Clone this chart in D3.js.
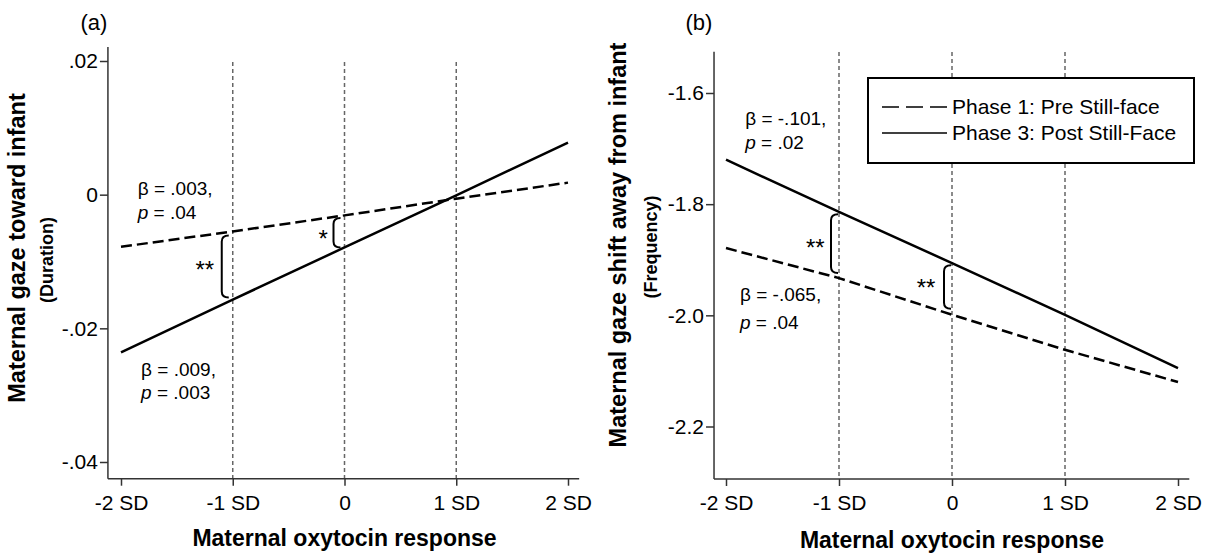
<!DOCTYPE html>
<html>
<head>
<meta charset="utf-8">
<script src="https://cdn.jsdelivr.net/npm/d3@7"></script>
<style>
  body { margin: 0; background: #fff; }
  svg text { font-family: "Liberation Sans", Arial, sans-serif; fill: #000; }
  .guide { stroke: #666; stroke-width: 1.5; stroke-dasharray: 4,3; }
  .axisline { stroke: #333; stroke-width: 1.5; }
</style>
</head>
<body>
<div id="chart"></div>
<script>
// x positions (in SD of oxytocin response) and their labels
var sdTicks = [-2, -1, 0, 1, 2];
var sdLabels = ["-2 SD", "-1 SD", "0", "1 SD", "2 SD"];
var guideSD = [-1, 0, 1];

// panel (a): gaze toward infant (duration)
var durTicks = [0.02, 0, -0.02, -0.04];
var durLabels = [".02", "0", "-.02", "-.04"];
var durPhase1 = [-0.0078, -0.0055, -0.0031, -0.0006, 0.0018];
var durPhase3 = [-0.0236, -0.0157, -0.0079, -0.0001, 0.0078];

// panel (b): gaze shift away from infant (frequency)
var freqTicks = [-1.6, -1.8, -2.0, -2.2];
var freqLabels = ["-1.6", "-1.8", "-2.0", "-2.2"];
var freqPhase1 = [-1.879, -1.933, -1.999, -2.062, -2.120];
var freqPhase3 = [-1.720, -1.814, -1.906, -1.999, -2.095];

var legendLabels = ["Phase 1: Pre Still-face", "Phase 3: Post Still-Face"];

var svg = d3.select("#chart").append("svg")
    .attr("width", 1209)
    .attr("height", 558);

var drawPanel = function (p) {
    var x = d3.scaleLinear().domain([-2, 2]).range(p.xRange);
    var y = d3.scaleLinear().domain(p.yDomain).range(p.yRange);
    var g = svg.append("g");

    // dotted guides at -1, 0, +1 SD
    g.selectAll(".guide").data(guideSD).enter().append("line")
        .attr("class", "guide")
        .attr("x1", function (d) { return x(d); })
        .attr("x2", function (d) { return x(d); })
        .attr("y1", p.guideTop)
        .attr("y2", y(p.yExt[0]));

    // axes
    var xAxis = d3.axisBottom(x).tickValues(sdTicks)
        .tickFormat(function (d, i) { return sdLabels[i]; })
        .tickSize(7).tickPadding(9);
    var gx = g.append("g").attr("transform", "translate(0," + y(p.yExt[0]) + ")").call(xAxis);
    var yAxis = d3.axisLeft(y).tickValues(p.yTicks)
        .tickFormat(function (d, i) { return p.yLabels[i]; })
        .tickSize(8).tickPadding(2);
    var gy = g.append("g").attr("transform", "translate(" + x(p.xExt[0]) + ",0)").call(yAxis);
    [gx, gy].forEach(function (a) {
        a.select(".domain").remove();
        a.selectAll("line").attr("stroke", "#333").attr("stroke-width", 1.5);
        a.selectAll("text").style("font-size", "21px").attr("fill", "#000");
    });
    g.append("line").attr("class", "axisline")
        .attr("x1", x(p.xExt[0])).attr("x2", x(p.xExt[1]))
        .attr("y1", y(p.yExt[0])).attr("y2", y(p.yExt[0]));
    g.append("line").attr("class", "axisline")
        .attr("x1", x(p.xExt[0])).attr("x2", x(p.xExt[0]))
        .attr("y1", y(p.yExt[0])).attr("y2", y(p.yExt[1]));

    // regression lines
    var line = d3.line()
        .x(function (d, i) { return x(sdTicks[i]); })
        .y(function (d) { return y(d); });
    g.append("path").datum(p.phase1).attr("d", line)
        .attr("fill", "none").attr("stroke", "#000").attr("stroke-width", 2.5)
        .attr("stroke-dasharray", "11,5");
    g.append("path").datum(p.phase3).attr("d", line)
        .attr("fill", "none").attr("stroke", "#000").attr("stroke-width", 2.5);

    // significance braces
    p.braces.forEach(function (b) {
        var bx = x(b.at) - b.off;
        var t = y(b.top), bt = y(b.bottom);
        g.append("path")
            .attr("d", "M" + (bx + 7) + "," + t + " Q" + bx + "," + t + " " + bx + "," + (t + 6) +
                " L" + bx + "," + (bt - 6) + " Q" + bx + "," + bt + " " + (bx + 7) + "," + bt)
            .attr("fill", "none").attr("stroke", "#000").attr("stroke-width", 2);
        g.append("text")
            .attr("x", x(b.starX)).attr("y", y(b.starY))
            .attr("text-anchor", "middle").attr("dy", "0.75em")
            .style("font-size", "24px")
            .text(b.stars);
    });

    // beta / p annotations
    p.notes.forEach(function (n) {
        var t = g.append("text").attr("x", x(n.x)).attr("y", y(n.y))
            .attr("dy", "0.35em").style("font-size", "19px");
        t.append("tspan").text("\u03B2 = " + n.beta + ",");
        var t2 = g.append("text").attr("x", x(n.x)).attr("y", y(n.y2))
            .attr("dy", "0.35em").style("font-size", "19px");
        t2.append("tspan").style("font-style", "italic").text("p");
        t2.append("tspan").text(" = " + n.p);
    });

    // titles
    g.append("text").attr("x", p.tag[0]).attr("y", p.tag[1])
        .attr("text-anchor", "middle").attr("dy", "0.35em")
        .style("font-size", "22px").text(p.tagText);
    g.append("text").attr("x", (x(-2) + x(2)) / 2).attr("y", p.xTitleY)
        .attr("text-anchor", "middle").style("font-size", "23px").style("font-weight", "bold")
        .text("Maternal oxytocin response");
    g.append("text")
        .attr("transform", "translate(" + p.yTitleX + "," + p.yTitleMid + ") rotate(-90)")
        .attr("text-anchor", "middle").attr("dy", "0.35em")
        .style("font-size", "23.5px").style("font-weight", "bold")
        .text(p.yTitle);
    g.append("text")
        .attr("transform", "translate(" + p.ySubX + "," + p.ySubMid + ") rotate(-90)")
        .attr("text-anchor", "middle").attr("dy", "0.35em")
        .style("font-size", "18px").style("font-weight", "bold")
        .text(p.ySub);

    return { x: x, y: y, g: g };
};

drawPanel({
    xRange: [121, 568], xExt: [-2.117, 2.1],
    yDomain: [-0.04, 0.02], yRange: [462, 61], yExt: [-0.0425, 0.0221],
    yTicks: durTicks, yLabels: durLabels,
    guideTop: 62,
    phase1: durPhase1, phase3: durPhase3,
    braces: [
        { at: -1, off: 11, top: durPhase1[1] - 0.0006, bottom: durPhase3[1] + 0.0003, stars: "**", starX: -1.25, starY: -0.0098 },
        { at: 0, off: 11, top: durPhase1[2] - 0.0004, bottom: durPhase3[2], stars: "*", starX: -0.19, starY: -0.0052 }
    ],
    notes: [
        { x: -1.85, y: 0.0009, y2: -0.0027, beta: ".003", p: ".04" },
        { x: -1.82, y: -0.0262, y2: -0.0296, beta: ".009", p: ".003" }
    ],
    tag: [94, 22], tagText: "(a)",
    xTitleY: 546,
    yTitle: "Maternal gaze toward infant", yTitleX: 17, yTitleMid: 248,
    ySub: "(Duration)", ySubX: 47, ySubMid: 260
});

drawPanel({
    xRange: [726, 1178], xExt: [-2.106, 2.1],
    yDomain: [-2.2, -1.6], yRange: [426.5, 93], yExt: [-2.2945, -1.526],
    yTicks: freqTicks, yLabels: freqLabels,
    guideTop: 52,
    phase1: freqPhase1, phase3: freqPhase3,
    braces: [
        { at: -1, off: 8, top: freqPhase3[1] - 0.004, bottom: freqPhase1[1] + 0.009, stars: "**", starX: -1.21, starY: -1.860 },
        { at: 0, off: 8, top: freqPhase3[2] - 0.004, bottom: freqPhase1[2] + 0.011, stars: "**", starX: -0.23, starY: -1.932 }
    ],
    notes: [
        { x: -1.83, y: -1.645, y2: -1.688, beta: "-.101", p: ".02" },
        { x: -1.876, y: -1.963, y2: -2.012, beta: "-.065", p: ".04" }
    ],
    tag: [699, 22], tagText: "(b)",
    xTitleY: 548,
    yTitle: "Maternal gaze shift away from infant", yTitleX: 618, yTitleMid: 245,
    ySub: "(Frequency)", ySubX: 651, ySubMid: 247
});

// legend for panel (b)
var lg = svg.append("g");
lg.append("rect").attr("x", 868).attr("y", 78).attr("width", 326).attr("height", 85)
    .attr("fill", "#fff").attr("stroke", "#000").attr("stroke-width", 2);
legendLabels.forEach(function (lab, i) {
    var yy = 107 + i * 26;
    lg.append("line").attr("x1", 882).attr("x2", 947).attr("y1", yy).attr("y2", yy)
        .attr("stroke", "#000").attr("stroke-width", 1.5)
        .attr("stroke-dasharray", i === 0 ? "17,7" : null);
    lg.append("text").attr("x", 952).attr("y", yy).attr("dy", "0.35em")
        .style("font-size", "21px").text(lab);
});
</script>
</body>
</html>
